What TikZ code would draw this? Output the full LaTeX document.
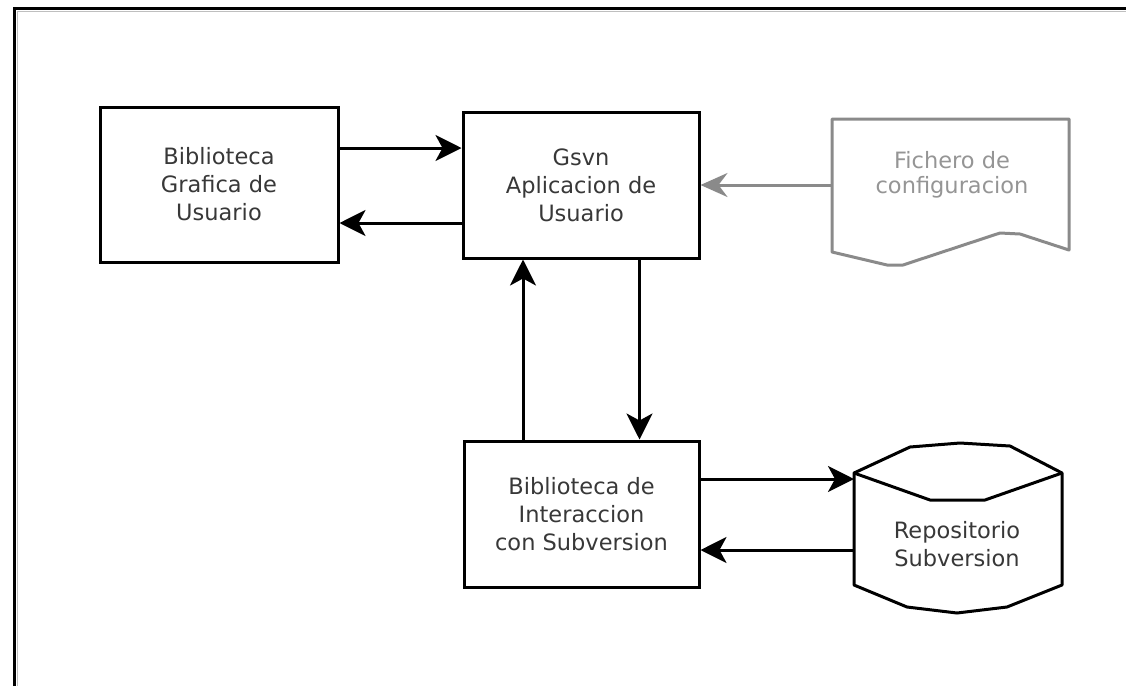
\documentclass[tikz,border=0pt]{standalone}
\usepackage{fontspec}
\setmainfont{DejaVu Sans}
\usetikzlibrary{arrows.meta,calc}
\definecolor{txt}{HTML}{383838}
\definecolor{lgrey}{HTML}{8A8A8A}
\definecolor{tgrey}{HTML}{959595}
\begin{document}
\begin{tikzpicture}[x=1pt,y=-1pt,
  box/.style={draw,line width=3pt,inner sep=0pt,align=center,text=txt,
    font=\fontsize{22.5}{28}\selectfont},
  lbl/.style={inner sep=0pt,align=center,text=txt,font=\fontsize{22.5}{28}\selectfont},
  arr/.style={line width=3pt,-{Stealth[length=26pt 0 0,width=26pt 0 0,inset=7pt 0 0]}},
  garr/.style={line width=3pt,draw=lgrey,-{Stealth[length=27pt 0 0,width=24pt 0 0,inset=9pt 0 0]}},
  shp/.style={line width=3pt,line join=round}]
\useasboundingbox (0,0) rectangle (1126,686);
% frame
\draw[line width=3.5pt] (14.5,686) -- (14.5,8.5) -- (1126,8.5);
\draw[gray!50,line width=1pt] (17,686) -- (17,11) -- (1126,11);
% boxes
\node[box,minimum width=238pt,minimum height=155pt] (b1) at (219,184.5)
  {Biblioteca\\Grafica de\\Usuario};
\node[box,minimum width=236pt,minimum height=146pt] (b2) at (581,185)
  {Gsvn\\Aplicacion de\\Usuario};
\node[box,minimum width=235pt,minimum height=146pt] (b3) at (581.5,514)
  {Biblioteca de\\Interaccion\\con Subversion};
% cylinder
\draw[shp] (854,473) -- (910,447) -- (960,443) -- (1010,446) -- (1062,473)
  -- (1062,585) -- (1007,607) -- (957,613) -- (907,607) -- (854,585) -- cycle;
\draw[shp] (854,473) -- (930,500) -- (985,500) -- (1062,473);
\node[lbl] (repo) at (957,544) {Repositorio\\Subversion};
\coordinate (repoL) at (854,514);
% document
\draw[shp,draw=lgrey] (832,252) -- (832,119) -- (1069,119) -- (1069,250)
  -- (1020,234) -- (1000,233) -- (903,265) -- (887,265) -- cycle;
\node[lbl,text=tgrey,font=\fontsize{22.5}{25}\selectfont] (conf) at (952,175) {Fichero de\\configuracion};
\coordinate (confL) at (832,185);
% connectors
\draw[arr] ([yshift=36.5pt]b1.east) -- ([yshift=36.5pt]b1.east -| b2.west);
\draw[arr] ([yshift=-38pt]b2.west) -- ([yshift=-38pt]b2.west -| b1.east);
\draw[arr] ([xshift=-58.5pt]b3.north) -- ([xshift=-58.5pt]b3.north |- b2.south);
\draw[arr] ([xshift=58.5pt]b2.south) -- ([xshift=58.5pt]b2.south |- b3.north);
\draw[arr] ([yshift=35pt]b3.east) -- ([yshift=35pt]b3.east -| repoL);
\draw[arr] ([yshift=-36pt]b3.east -| repoL) -- ([yshift=-36pt]b3.east);
\draw[garr] (confL) -- (confL -| b2.east);
\end{tikzpicture}
\end{document}
